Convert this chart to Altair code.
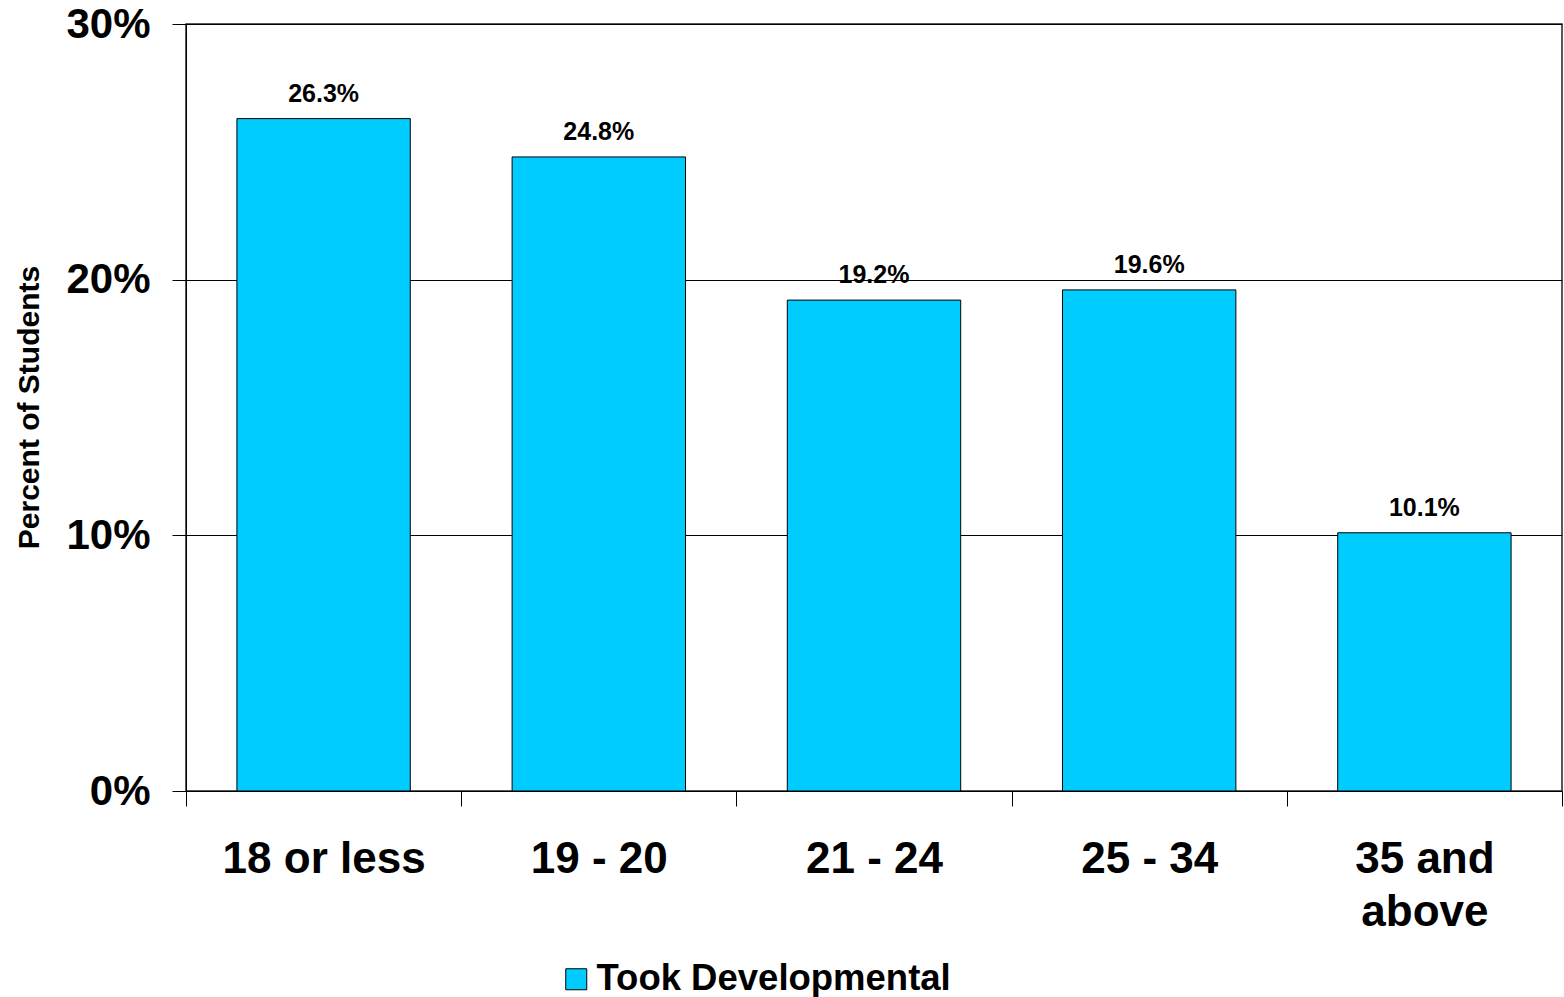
import altair as alt
import pandas as pd

# Share of students who took developmental courses, by age group
age_groups = ["18 or less", "19 - 20", "21 - 24", "25 - 34", "35 and above"]
pct_values = [26.3, 24.8, 19.2, 19.6, 10.1]
series_name = "Took Developmental"

df = pd.DataFrame({
    "age": age_groups,
    "pct": pct_values,
    "series": [series_name] * len(age_groups),
})

FONT = "Liberation Sans"

x_enc = alt.X(
    "age:N",
    sort=age_groups,
    scale=alt.Scale(paddingInner=0, paddingOuter=0),
    axis=alt.Axis(
        title=None,
        labelAngle=0,
        labelFont=FONT,
        labelFontSize=44,
        labelFontWeight="bold",
        labelColor="black",
        labelPadding=31,
        labelLineHeight=53,
        labelLimit=1000,
        labelExpr="datum.value == '35 and above' ? ['35 and', 'above'] : datum.value",
        tickBand="extent",
        tickSize=15,
        tickColor="black",
        domainColor="black",
        grid=False,
    ),
)

y_enc = alt.Y(
    "pct:Q",
    scale=alt.Scale(domain=[0, 30], nice=False),
    axis=alt.Axis(
        title="Percent of Students",
        titleFont=FONT,
        titleFontSize=30,
        titleFontWeight="bold",
        titleColor="black",
        titleX=-157,
        titleY=383,
        titleAngle=270,
        titleAlign="center",
        titleBaseline="middle",
        values=[0, 10, 20, 30],
        labelExpr="datum.value + '%'",
        labelFont=FONT,
        labelFontSize=42,
        labelFontWeight="bold",
        labelColor="black",
        labelPadding=22,
        tickSize=14,
        tickColor="black",
        domainColor="black",
        grid=True,
        gridColor="black",
        gridOpacity=1,
        gridWidth=1,
    ),
)

bars = alt.Chart(df).mark_bar(
    stroke="black", strokeWidth=1, width=alt.RelativeBandSize(0.63)
).encode(
    x=x_enc,
    y=y_enc,
    color=alt.Color(
        "series:N",
        scale=alt.Scale(domain=[series_name], range=["#00CCFF"]),
        legend=alt.Legend(
            title=None,
            orient="none",
            legendX=372,
            legendY=937,
            symbolType="square",
            symbolSize=441,
            symbolStrokeColor="black",
            symbolStrokeWidth=1,
            symbolOpacity=1,
            labelFont=FONT,
            labelFontSize=36.5,
            labelFontWeight="bold",
            labelColor="black",
            labelOffset=2,
            labelLimit=1000,
            padding=0,
        ),
    ),
)

labels = alt.Chart(df).transform_calculate(
    label="format(datum.pct, '.1f') + '%'"
).mark_text(
    font=FONT,
    fontSize=25,
    fontWeight="bold",
    color="black",
    baseline="alphabetic",
    dy=-17,
).encode(
    x=alt.X("age:N", sort=age_groups),
    y="pct:Q",
    text="label:N",
)

chart = alt.layer(bars, labels).properties(
    width=1376,
    height=767,
    autosize=alt.AutoSizeParams(type="none"),
    padding={"left": 186, "top": 24, "right": 2, "bottom": 206},
    background="white",
).configure_view(
    stroke="#222222",
    strokeWidth=1.5,
)

chart.save("out.html", embed_options={"renderer": "svg", "actions": False})
